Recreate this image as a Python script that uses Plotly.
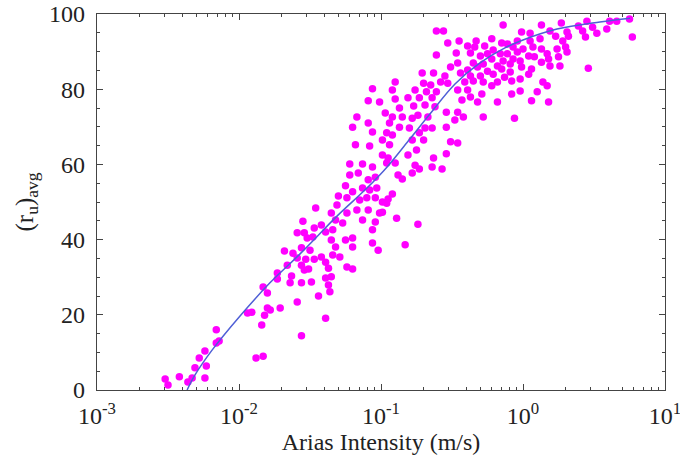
import plotly.graph_objects as go

# Scatter data: log10 of Arias intensity (m/s) and average pore pressure ratio (%)
log10_arias = [
    -2.52, -2.50, -2.42, -2.36, -2.33, -2.31, -2.24, -2.28, -2.23, -2.24, -2.16, -2.14, -2.16,
    -1.91, -1.94, -1.88, -1.83, -1.84, -1.82, -1.78, -1.83, -1.80, -1.80, -1.71, -1.56, -1.39,
    -1.30, -1.35, -1.46, -1.32, -1.55, -1.42, -1.47, -1.59, -1.54, -1.52, -1.48, -1.39, -1.35,
    -1.32, -1.68, -1.62, -1.56, -1.50, -1.59, -1.53, -1.47, -1.42, -1.39, -1.34, -1.56, -1.51,
    -1.66, -1.73, -1.73, -1.63, -1.64, -1.56, -1.49, -1.39, -1.35, -1.37, -1.36, -1.44, -1.59,
    -1.31, -1.24, -1.17, -1.09, -1.01, -1.27, -1.13, -1.04, -0.89, -1.34, -1.06, -1.25, -1.20,
    -1.20, -1.06, -1.02, -1.29, -1.54, -1.37, -1.24, -1.20,
    -1.06, -1.09, -1.01, -0.97, -1.17, -1.09, -1.20, -1.06, -0.96, -0.99, -1.18, -1.08, -0.99,
    -0.95, -1.22, -1.13, -1.06, -1.22, -1.16, -1.09, -1.04, -1.25, -1.20, -1.13, -1.08, -1.03,
    -1.24, -1.15, -1.10, -1.04, -0.99,
    -0.61, -0.56, -0.53, -0.45, -0.39, -0.33, -0.47, -0.37, -0.61, -0.46, -0.51, -0.35, -0.71,
    -0.63, -0.55, -0.44, -0.39, -0.32, -0.90, -0.70, -0.65, -0.58, -0.53, -0.41, -0.92, -0.76,
    -0.68, -0.61, -0.46, -0.39, -0.90, -0.81, -0.73, -0.64, -0.43, -0.37, -0.87, -0.77, -0.69,
    -0.62, -0.54, -0.46, -0.92, -0.85, -0.74, -0.67, -0.78, -0.42, -0.94, -0.87, -0.80, -0.69,
    -0.64, -0.54, -0.48, -0.92, -0.73, -0.78, -0.70, -0.51, -0.46,
    -0.94, -0.75, -0.90, -0.81, -0.96, -0.63, -0.54, -0.76, -0.64, -0.57, -0.78, -0.73, -0.88,
    -0.85, -0.92, -0.95, -0.96, -0.99, -0.74, -0.83,
    -0.14, 0.13, 0.27, 0.19, -0.01, 0.05, -0.22, -0.15, -0.11, -0.04, 0.05, 0.12, 0.23, 0.28,
    -0.27, -0.34, -0.21, -0.07, 0.00, 0.07, 0.13, 0.24, 0.30, -0.30, -0.25, -0.16, -0.11, -0.04,
    0.04, 0.17, -0.22, -0.14, -0.07, -0.02, 0.08, 0.18, 0.25, -0.28, -0.18, -0.09, 0.19, 0.26,
    -0.25, -0.15, -0.09, -0.01, 0.06, 0.13, -0.37, -0.30, -0.21, -0.13, -0.02, 0.04, -0.35,
    -0.28, -0.18, -0.08, -0.22, 0.14, 0.17, -0.29, -0.08, -0.02, 0.10, -0.32, -0.18, 0.06, 0.18,
    -0.28, -0.06,
    0.75, 0.66, 0.61, 0.45, 0.39, 0.49, 0.59, 0.31, 0.42, 0.52, 0.32, 0.44, 0.77, 0.31, 0.46,
]
ru_avg = [
    2.9, 1.3, 3.5, 2.1, 3.2, 5.9, 3.2, 8.5, 6.4, 10.4, 12.5, 13.0, 16.0,
    20.7, 20.5, 8.5, 9.0, 17.3, 19.9, 21.3, 27.4, 25.8, 21.8, 21.8, 14.4, 19.1,
    51.6, 47.1, 48.4, 45.2, 44.9, 43.9, 43.1, 41.8, 41.8, 40.4, 40.7, 42.0, 39.9,
    38.0, 37.0, 36.4, 37.8, 37.2, 35.1, 34.8, 34.8, 35.4, 34.0, 35.9, 33.2, 32.2,
    33.2, 31.1, 29.5, 30.3, 28.5, 28.5, 28.7, 29.8, 30.1, 27.9, 26.1, 25.0, 23.4,
    49.2, 47.1, 47.9, 47.9, 47.1, 44.4, 45.2, 44.7, 45.7, 42.6, 42.6, 39.9, 40.4,
    38.0, 39.1, 37.2, 35.4, 31.9, 32.4, 32.7, 32.2,
    80.1, 76.9, 76.6, 73.7, 72.6, 71.0, 69.9, 68.6, 68.4, 66.5, 65.2, 64.9, 62.5,
    61.7, 60.1, 60.1, 59.3, 57.2, 57.7, 55.9, 56.6, 54.3, 52.7, 53.7, 53.2, 53.7,
    51.1, 50.5, 51.1, 51.1, 50.0,
    95.5, 95.5, 92.3, 92.8, 91.5, 92.8, 89.6, 89.6, 89.1, 87.0, 85.9, 87.0, 84.3,
    84.3, 83.5, 84.3, 85.1, 85.9, 81.9, 81.6, 81.1, 81.9, 81.6, 81.9, 79.8, 79.8,
    79.3, 79.3, 79.8, 79.8, 77.4, 77.7, 77.7, 77.7, 77.1, 77.9, 75.0, 75.5, 75.8,
    75.3, 73.9, 73.9, 72.6, 72.6, 73.1, 72.6, 72.3, 72.6, 71.0, 69.9, 69.7, 69.7,
    69.7, 69.9, 71.8, 67.8, 68.4, 66.5, 66.5, 66.0, 65.7,
    65.2, 63.8, 60.4, 62.5, 60.4, 61.7, 62.8, 59.8, 59.3, 58.8, 57.7, 58.8, 57.2,
    56.1, 52.1, 50.8, 49.7, 47.3, 44.1, 38.6,
    97.1, 97.1, 97.6, 95.5, 95.2, 94.9, 93.4, 92.3, 92.0, 92.8, 92.8, 93.4, 94.1, 92.8,
    91.5, 91.2, 90.4, 91.2, 90.7, 91.2, 90.7, 90.7, 91.2, 88.8, 89.4, 89.4, 89.4, 89.9,
    88.8, 89.4, 88.0, 87.5, 88.0, 87.5, 88.6, 88.0, 88.6, 86.7, 86.2, 86.7, 86.2, 86.2,
    84.8, 85.4, 84.6, 85.9, 85.4, 87.2, 83.5, 83.5, 84.0, 83.2, 82.7, 84.0, 82.2,
    81.9, 81.9, 82.2, 80.9, 81.9, 80.9, 78.7, 78.7, 79.5, 79.3, 76.6, 76.6, 76.9, 76.6,
    72.6, 72.3,
    98.7, 98.1, 98.1, 98.1, 96.8, 96.5, 96.0, 95.2, 95.5, 94.9, 94.1, 93.9, 93.9, 89.9, 85.6,
]

# Fitted curve
curve_arias = [0.00431, 0.00490, 0.00646, 0.01017, 0.01652, 0.02691, 0.0498, 0.0796, 0.112,
               0.160, 0.221, 0.332, 0.498, 0.746, 1.0, 1.735, 3.48, 5.68]
curve_ru = [0.0, 4.0, 10.6, 19.7, 28.5, 36.2, 46.5, 53.7, 59.6,
            66.8, 73.4, 81.4, 87.0, 91.0, 93.1, 96.0, 97.9, 98.9]

x_tick_vals = [1e-3, 1e-2, 1e-1, 1e0, 1e1]
x_tick_text = ["10<sup>-3</sup>", "10<sup>-2</sup>", "10<sup>-1</sup>",
               "10<sup>0</sup>", "10<sup>1</sup>"]
y_tick_vals = [0, 20, 40, 60, 80, 100]

arias = [10 ** v for v in log10_arias]

minor_x = [m * 10 ** e for e in range(-3, 1) for m in range(2, 10)]

font = "Liberation Serif, Times New Roman, serif"

fig = go.Figure()
fig.add_trace(go.Scatter(
    x=arias, y=ru_avg, mode="markers",
    marker=dict(color="#ff00ff", size=7.5, line=dict(width=0)),
    showlegend=False,
))
fig.add_trace(go.Scatter(
    x=curve_arias, y=curve_ru, mode="lines",
    line=dict(color="#4f5fd6", width=1.5, shape="spline"),
    showlegend=False,
))

fig.update_layout(
    width=680, height=463,
    margin=dict(l=97, r=15, t=14, b=73, autoexpand=False),
    paper_bgcolor="white", plot_bgcolor="white",
    font=dict(family=font, size=24, color="#222"),
    xaxis=dict(
        type="log", range=[-3, 1], automargin=False,
        tickvals=x_tick_vals, ticktext=x_tick_text,
        ticks="inside", ticklen=6, tickwidth=1, tickcolor="#444",
        minor=dict(tickvals=minor_x, ticks="inside", ticklen=3, tickcolor="#444"),
        showline=True, linecolor="#444", linewidth=1.2, mirror="ticks",
        showgrid=False, zeroline=False,
        ticklabelstandoff=4, ticklabeloverflow="allow",
        title=dict(text="Arias Intensity (m/s)", font=dict(size=24), standoff=0),
        tickfont=dict(size=24),
    ),
    yaxis=dict(
        range=[0, 100], automargin=False,
        tickvals=y_tick_vals,
        ticks="inside", ticklen=6, tickwidth=1, tickcolor="#444",
        minor=dict(dtick=5, ticks="inside", ticklen=3, tickcolor="#444"),
        showline=True, linecolor="#444", linewidth=1.2, mirror="ticks",
        showgrid=False, zeroline=False,
        ticklabelstandoff=6,
        title=dict(text="(r<sub>u</sub>)<sub>avg</sub>", font=dict(size=25), standoff=8),
        tickfont=dict(size=24),
    ),
)

fig.write_html("out.html")
